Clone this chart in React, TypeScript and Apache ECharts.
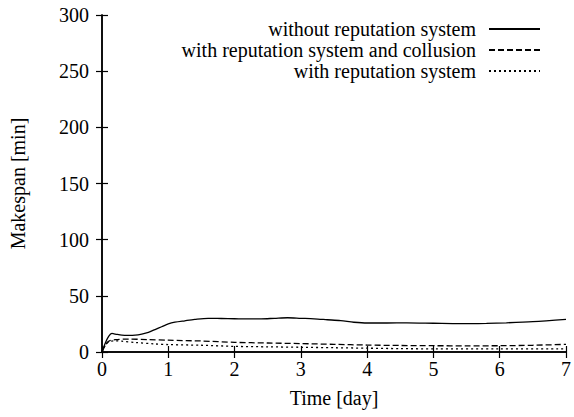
import React, { useEffect, useRef } from "react";
import * as echarts from "echarts";

const seriesNames = [
  "without reputation system",
  "with reputation system and collusion",
  "with reputation system",
];

const withoutRep: [number, number][] = [
  [0, 0], [0.05, 8], [0.1, 14], [0.15, 16.5], [0.2, 16], [0.3, 15], [0.4, 14.8], [0.5, 15],
  [0.6, 16], [0.7, 17.5], [0.8, 20], [0.9, 22.5], [1.0, 25], [1.1, 26.5], [1.25, 27.8],
  [1.4, 29], [1.6, 30], [1.8, 29.8], [2.0, 29.6], [2.2, 29.4], [2.4, 29.5], [2.6, 30],
  [2.8, 30.5], [3.0, 30], [3.2, 29.5], [3.4, 28.7], [3.6, 27.9], [3.8, 26.5], [4.0, 25.8],
  [4.3, 25.8], [4.6, 26], [5.0, 25.6], [5.4, 25.2], [5.8, 25.5], [6.1, 26], [6.5, 27], [7, 29],
];

const withCollusion: [number, number][] = [
  [0, 0], [0.05, 6], [0.1, 9.5], [0.2, 11], [0.4, 11.5], [0.7, 11], [1.0, 10.5], [1.5, 9.8],
  [2.0, 8.6], [2.5, 8], [3, 7.5], [3.5, 6.8], [4, 6.2], [4.5, 5.8], [5, 5.6], [5.5, 5.5],
  [6, 5.6], [6.5, 6], [7, 6.8],
];

const withRep: [number, number][] = [
  [0, 0], [0.05, 6], [0.1, 9], [0.2, 10], [0.3, 9.6], [0.5, 8.5], [0.8, 7.2], [1.0, 6.6],
  [1.5, 6], [2, 5], [2.5, 4.6], [3, 4.2], [3.5, 3.8], [4, 3.4], [4.5, 3], [5, 2.8], [6, 2.7],
  [7, 2.7],
];

const xTicks = { min: 0, max: 7, interval: 1 };
const yTicks = { min: 0, max: 300, interval: 50 };

const FONT = "Times New Roman, Liberation Serif, DejaVu Serif, serif";

export default function App() {
  const ref = useRef<HTMLDivElement>(null);
  useEffect(() => {
    if (!ref.current) return;
    const chart = echarts.init(ref.current, null, { renderer: "svg" });
    const axisLine = { show: true, lineStyle: { color: "#000", width: 1.5 } };
    const tick = { show: true, inside: true, length: 6, lineStyle: { color: "#000", width: 1.2 } };
    const dashes = ["solid", [6, 3], [2, 3]];
    const datas = [withoutRep, withCollusion, withRep];
    const legendTops = [18.5, 39.5, 60.5];
    const txt = { fontFamily: FONT, fontSize: 20, color: "#000" };
    chart.setOption({
      animation: false,
      textStyle: { fontFamily: FONT },
      grid: { left: 101, right: 7, top: 15, bottom: 65 },
      legend: seriesNames.map((n, i) => ({
        data: [n],
        right: 33,
        top: legendTops[i],
        padding: 0,
        orient: "vertical",
        align: "right",
        itemWidth: 51,
        itemHeight: 14,
        itemStyle: { opacity: 0 },
        textStyle: { ...txt, lineHeight: 21, padding: [0, 8, 0, 0] },
      })),
      xAxis: [
        {
          type: "value",
          ...xTicks,
          name: "Time [day]",
          nameLocation: "middle",
          nameGap: 36,
          nameTextStyle: txt,
          axisLine,
          axisTick: tick,
          splitLine: { show: false },
          axisLabel: { margin: 7, ...txt },
        },
        {
          type: "value",
          ...xTicks,
          position: "top",
          axisLine,
          axisTick: tick,
          splitLine: { show: false },
          axisLabel: { show: false },
        },
      ],
      yAxis: [
        {
          type: "value",
          ...yTicks,
          name: "Makespan [min]",
          nameLocation: "middle",
          nameGap: 74,
          nameTextStyle: txt,
          axisLine,
          axisTick: tick,
          splitLine: { show: false },
          axisLabel: { margin: 13, ...txt },
        },
        {
          type: "value",
          ...yTicks,
          position: "right",
          axisLine,
          axisTick: tick,
          splitLine: { show: false },
          axisLabel: { show: false },
        },
      ],
      series: seriesNames.map((n, i) => ({
        name: n,
        type: "line",
        data: datas[i],
        symbol: "none",
        smooth: 0.3,
        lineStyle: { color: "#000", width: 1.3, type: dashes[i] },
        itemStyle: { color: "#000" },
      })),
    });
    return () => chart.dispose();
  }, []);
  return <div ref={ref} style={{ position: "fixed", left: 0, top: 0, width: 574, height: 417, background: "#fff" }} />;
}
